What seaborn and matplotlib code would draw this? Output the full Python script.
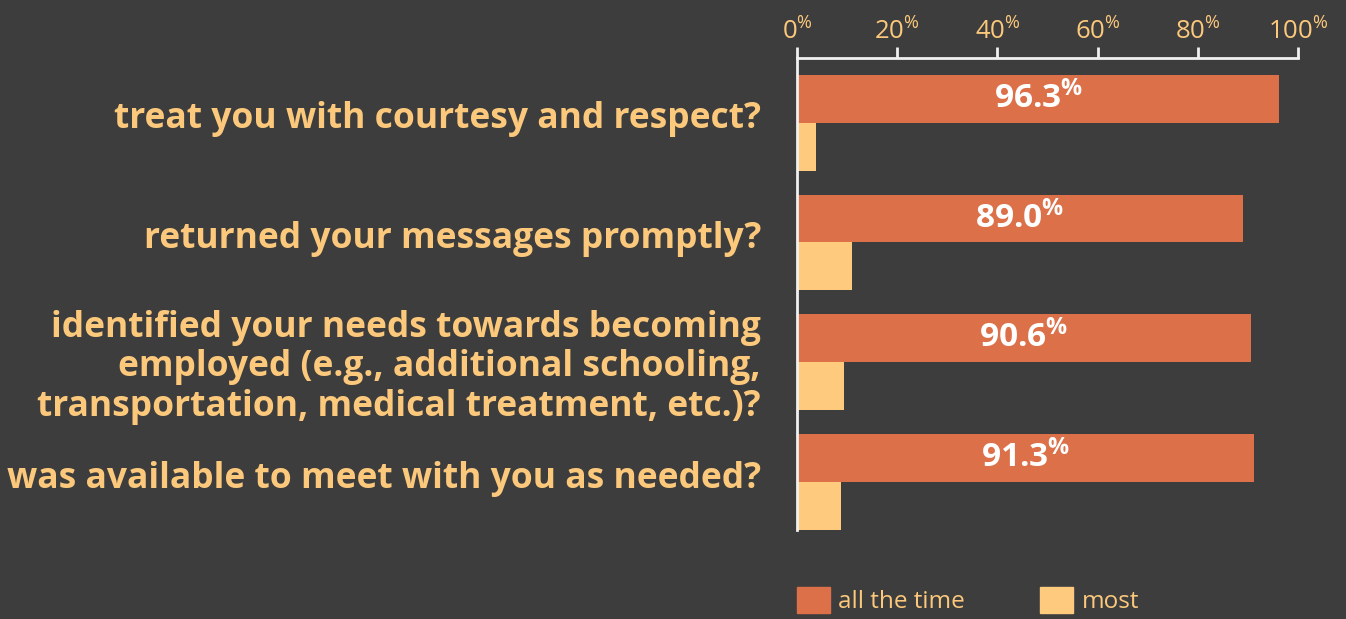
import pandas as pd
import matplotlib.pyplot as plt
import seaborn as sns
from matplotlib.patches import Patch
from matplotlib.transforms import ScaledTranslation

# 数据
questions = [
    'treat you with courtesy and respect?',
    'returned your messages promptly?',
    'identified your needs towards becoming\nemployed (e.g., additional schooling,\ntransportation, medical treatment, etc.)?',
    'was available to meet with you as needed?',
]
all_the_time = [96.3, 89.0, 90.6, 91.3]
most = [3.7, 11.0, 9.4, 8.7]
series = ['all the time', 'most']
x_ticks = [0, 20, 40, 60, 80, 100]

bg = '#3d3d3d'
orange = '#dc7049'
yellow = '#fecb7e'
txt = '#fcc97c'
font = 'Open Sans'

df = pd.DataFrame({
    'question': questions * 2,
    'series': [series[0]] * 4 + [series[1]] * 4,
    'value': all_the_time + most,
})

sns.set_style('dark')
plt.rcParams['font.family'] = [font, 'DejaVu Sans']
plt.rcParams['mathtext.default'] = 'regular'
plt.rcParams['mathtext.fontset'] = 'custom'
plt.rcParams['mathtext.rm'] = font
plt.rcParams['mathtext.bf'] = font + ':bold'

fig = plt.figure(figsize=(13.46, 6.19), dpi=100, facecolor=bg)
ax = fig.add_axes([797 / 1346, 1 - 530 / 619, 501 / 1346, 472 / 619])
ax.set_facecolor(bg)

sns.barplot(data=df, y='question', x='value', hue='series', orient='h',
            palette=[orange, yellow], width=0.8, saturation=1, linewidth=0,
            ax=ax, legend=False)

ax.set_xlim(0, 100)
ax.set_ylim(3.4, -0.54)
ax.set_xlabel('')
ax.set_ylabel('')
ax.grid(False)

# 顶部坐标轴
ax.xaxis.tick_top()
ax.set_xticks(x_ticks)
ax.set_xticklabels([f'{t}$^{{\\%}}$' for t in x_ticks])
ax.tick_params(axis='x', colors='#f0f0f0', labelcolor=txt, labelsize=18.5,
               length=8, width=2, pad=1, direction='out')
ax.tick_params(axis='y', length=0, labelcolor=txt, labelsize=25.5, pad=26)
for lab in ax.get_yticklabels():
    lab.set_fontweight('bold')
    lab.set_linespacing(1.12)
    dy = 1 if '\n' in lab.get_text() else 8
    lab.set_transform(lab.get_transform() + ScaledTranslation(0, dy / 100, fig.dpi_scale_trans))

for side in ['right', 'bottom']:
    ax.spines[side].set_visible(False)
for side in ['top', 'left']:
    ax.spines[side].set_visible(True)
    ax.spines[side].set_color('#f0f0f0')
    ax.spines[side].set_linewidth(2)

# 数值标签
ax.bar_label(ax.containers[0], labels=[f'{v:.1f}$^{{\\%}}$' for v in all_the_time],
             label_type='center', color='white', fontsize=24, fontweight='bold')

# 图例
handles = [Patch(color=orange, label=series[0]), Patch(color=yellow, label=series[1])]
fig.legend(handles=handles, loc='lower left', bbox_to_anchor=(775 / 1346, -0.028),
           ncol=2, frameon=False, fontsize=17.5, labelcolor=txt, handlelength=1.35,
           handleheight=1.25, handletextpad=0.35, columnspacing=3.1)

fig.savefig('out.png', dpi=100, facecolor=bg)
